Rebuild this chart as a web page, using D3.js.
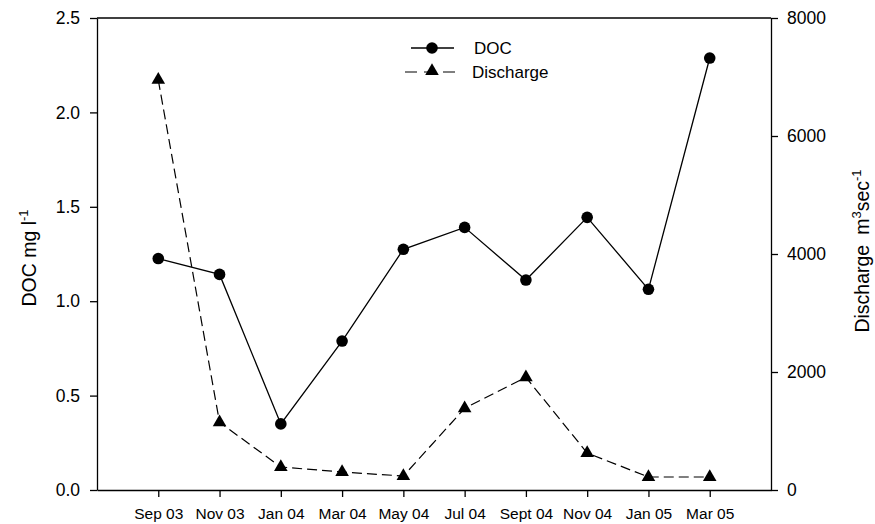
<!DOCTYPE html>
<html><head><meta charset="utf-8">
<script src="https://cdn.jsdelivr.net/npm/d3@7"></script>
<style>body{margin:0;background:#fff}svg{font-family:"Liberation Sans",Arial,sans-serif}</style>
</head><body><svg id="c" width="875" height="524"></svg>
<script>
const categories = ["Sep 03","Nov 03","Jan 04","Mar 04","May 04","Jul 04","Sept 04","Nov 04","Jan 05","Mar 05"];
const docValues = [1.226,1.142,0.35,0.789,1.275,1.391,1.112,1.444,1.063,2.288];
const dischargeValues = [6950,1147,390,305,237,1385,1910,627,220,220];
const leftTicks = [0,0.5,1.0,1.5,2.0,2.5];
const rightTicks = [0,2000,4000,6000,8000];

const svg = d3.select("#c");
const L=97, R=771, T=18, B=490;
const x = d3.scalePoint().domain(categories).range([L,R]).padding(1);
const yL = d3.scaleLinear().domain([0,2.5]).range([B,T]);
const yR = d3.scaleLinear().domain([0,8000]).range([B,T]);
const FF = "'Liberation Sans',Arial,sans-serif";

const axStyle = (g, fs) => { g.selectAll("path,line").attr("stroke","#000").attr("stroke-width",1.3);
  g.selectAll("text").attr("font-size",fs).attr("fill","#000").attr("font-family",FF); };

svg.append("g").attr("transform",`translate(0,${B})`)
  .call(d3.axisBottom(x).tickSize(7).tickSizeOuter(0).tickPadding(11)).call(axStyle, 15.5);
svg.append("g").attr("transform",`translate(${L},0)`)
  .call(d3.axisLeft(yL).tickValues(leftTicks).tickFormat(d3.format(".1f")).tickSize(7).tickSizeOuter(0).tickPadding(10)).call(axStyle, 17.5);
svg.append("g").attr("transform",`translate(${R},0)`)
  .call(d3.axisRight(yR).tickValues(rightTicks).tickFormat(d=>d).tickSize(7).tickSizeOuter(0).tickPadding(9)).call(axStyle, 17.5);
svg.append("line").attr("x1",L).attr("x2",R).attr("y1",T).attr("y2",T).attr("stroke","#000").attr("stroke-width",1.3);

// discharge line
const lineR = d3.line().x((d,i)=>x(categories[i])).y(d=>yR(d));
svg.append("path").attr("d",lineR(dischargeValues)).attr("fill","none").attr("stroke","#000")
  .attr("stroke-width",1.2).attr("stroke-dasharray","10,5");
const tri = d3.symbol().type(d3.symbolTriangle).size(80);
svg.selectAll(".tri").data(dischargeValues).join("path")
  .attr("transform",(d,i)=>`translate(${x(categories[i])},${yR(d)})`).attr("d",tri).attr("fill","#000");

// DOC line
const lineL = d3.line().x((d,i)=>x(categories[i])).y(d=>yL(d));
svg.append("path").attr("d",lineL(docValues)).attr("fill","none").attr("stroke","#000").attr("stroke-width",1.3);
svg.selectAll(".dot").data(docValues).join("circle")
  .attr("cx",(d,i)=>x(categories[i])).attr("cy",d=>yL(d)).attr("r",5.8).attr("fill","#000");

// legend
const lg = svg.append("g").attr("font-family",FF);
lg.append("line").attr("x1",411).attr("x2",454).attr("y1",48).attr("y2",48).attr("stroke","#000").attr("stroke-width",1.3);
lg.append("circle").attr("cx",432).attr("cy",48).attr("r",5.8).attr("fill","#000");
lg.append("text").attr("x",474).attr("y",54).text("DOC").attr("font-size",17);
lg.append("line").attr("x1",405).attr("x2",455).attr("y1",72).attr("y2",72).attr("stroke","#000").attr("stroke-width",1.2).attr("stroke-dasharray","12,7");
lg.append("path").attr("transform","translate(432,71)").attr("d",tri).attr("fill","#000");
lg.append("text").attr("x",472).attr("y",78).text("Discharge").attr("font-size",17);

// axis titles
const lt = svg.append("text").attr("transform",`translate(36,258) rotate(-90)`).attr("text-anchor","middle").attr("font-size",19.5).attr("font-family",FF);
lt.append("tspan").text("DOC mg l");
lt.append("tspan").text("-1").attr("font-size",13).attr("dy",-8);

const rt = svg.append("text").attr("transform",`translate(869,251) rotate(-90)`).attr("text-anchor","middle").attr("font-size",19.5).attr("font-family",FF);
rt.append("tspan").text("Discharge");
rt.append("tspan").text("m").attr("dx",10);
rt.append("tspan").text("3").attr("font-size",13).attr("dy",-8);
rt.append("tspan").text("sec").attr("dy",8);
rt.append("tspan").text("-1").attr("font-size",13).attr("dy",-8);
</script></body></html>
